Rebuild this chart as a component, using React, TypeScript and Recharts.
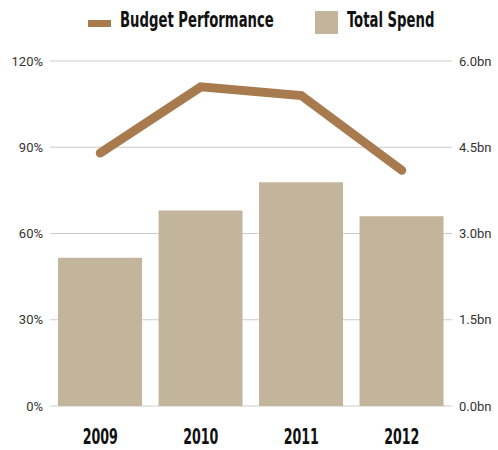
import React from "react";
import { ComposedChart, Bar, Line, XAxis, YAxis, CartesianGrid, Legend } from "recharts";

const years = ["2009", "2010", "2011", "2012"];
const budgetPerformance = [88, 111, 108, 82];
const totalSpend = [2.58, 3.4, 3.89, 3.3];
const leftTicks = [0, 30, 60, 90, 120];
const rightTicks = [0, 1.5, 3, 4.5, 6];

const data = years.map((y, i) => ({ year: y, perf: budgetPerformance[i], spend: totalSpend[i] }));

const LINE_COLOR = "#A87B4F";
const BAR_COLOR = "#C2B59B";
const HEAD_FONT = "'DejaVu Sans Condensed', 'DejaVu Sans', sans-serif";

const labelStyle: React.CSSProperties = {
  position: "absolute",
  top: 10,
  whiteSpace: "nowrap",
  lineHeight: "21px",
  transform: "scaleX(0.7)",
  transformOrigin: "0 0",
};

const LegendContent = () => (
  <div style={{ height: 61, position: "relative", fontFamily: HEAD_FONT, fontStretch: "condensed", fontWeight: 700, fontSize: 21, color: "#111" }}>
    <div style={{ position: "absolute", left: 88, top: 20, width: 23, height: 7, background: LINE_COLOR }} />
    <span style={{ ...labelStyle, left: 120 }}>Budget Performance</span>
    <div style={{ position: "absolute", left: 315, top: 11, width: 23, height: 23, background: BAR_COLOR }} />
    <span style={{ ...labelStyle, left: 347 }}>Total Spend</span>
  </div>
);

const YearTick = (props: any) => {
  const { x, y, payload } = props;
  return (
    <text
      transform={`translate(${x},${y}) scale(0.64,1)`}
      x={0}
      y={0}
      dy={32}
      textAnchor="middle"
      fontFamily={HEAD_FONT}
      style={{ fontStretch: "condensed" }}
      fontWeight={700}
      fontSize={22}
      fill="#111"
    >
      {payload.value}
    </text>
  );
};

export default function App() {
  return (
    <div style={{ position: "absolute", left: 0, top: 0 }}>
      <ComposedChart width={498} height={450} data={data} margin={{ top: 0, right: 0, bottom: 0, left: 0 }} barCategoryGap="8%">
        <Legend verticalAlign="top" align="left" content={<LegendContent />} wrapperStyle={{ left: 0, top: 0, width: 498 }} />
        <CartesianGrid vertical={false} yAxisId="left" stroke="#cccccc" />
        <XAxis
          dataKey="year"
          axisLine={false}
          tickLine={false}
          height={44}
          tickSize={6}
          tickMargin={0}
          tick={<YearTick />}
        />
        <YAxis
          yAxisId="left"
          orientation="left"
          width={50}
          domain={[0, 120]}
          ticks={leftTicks}
          axisLine={false}
          tickLine={false}
          tickMargin={1}
          tickFormatter={(v: number) => `${v}%`}
          tick={{ fontFamily: "Roboto, sans-serif", fontSize: 13, fill: "#333" }}
        />
        <YAxis
          yAxisId="right"
          orientation="right"
          width={46}
          domain={[0, 6]}
          ticks={rightTicks}
          axisLine={false}
          tickLine={false}
          tickMargin={1}
          tickFormatter={(v: number) => `${v.toFixed(1)}bn`}
          tick={{ fontFamily: "Roboto, sans-serif", fontSize: 13, fill: "#333" }}
        />
        <Bar yAxisId="right" dataKey="spend" name="Total Spend" fill={BAR_COLOR} isAnimationActive={false} />
        <Line
          yAxisId="left"
          dataKey="perf"
          name="Budget Performance"
          stroke={LINE_COLOR}
          strokeWidth={9}
          strokeLinecap="round"
          dot={false}
          activeDot={false}
          type="linear"
          isAnimationActive={false}
        />
      </ComposedChart>
    </div>
  );
}
